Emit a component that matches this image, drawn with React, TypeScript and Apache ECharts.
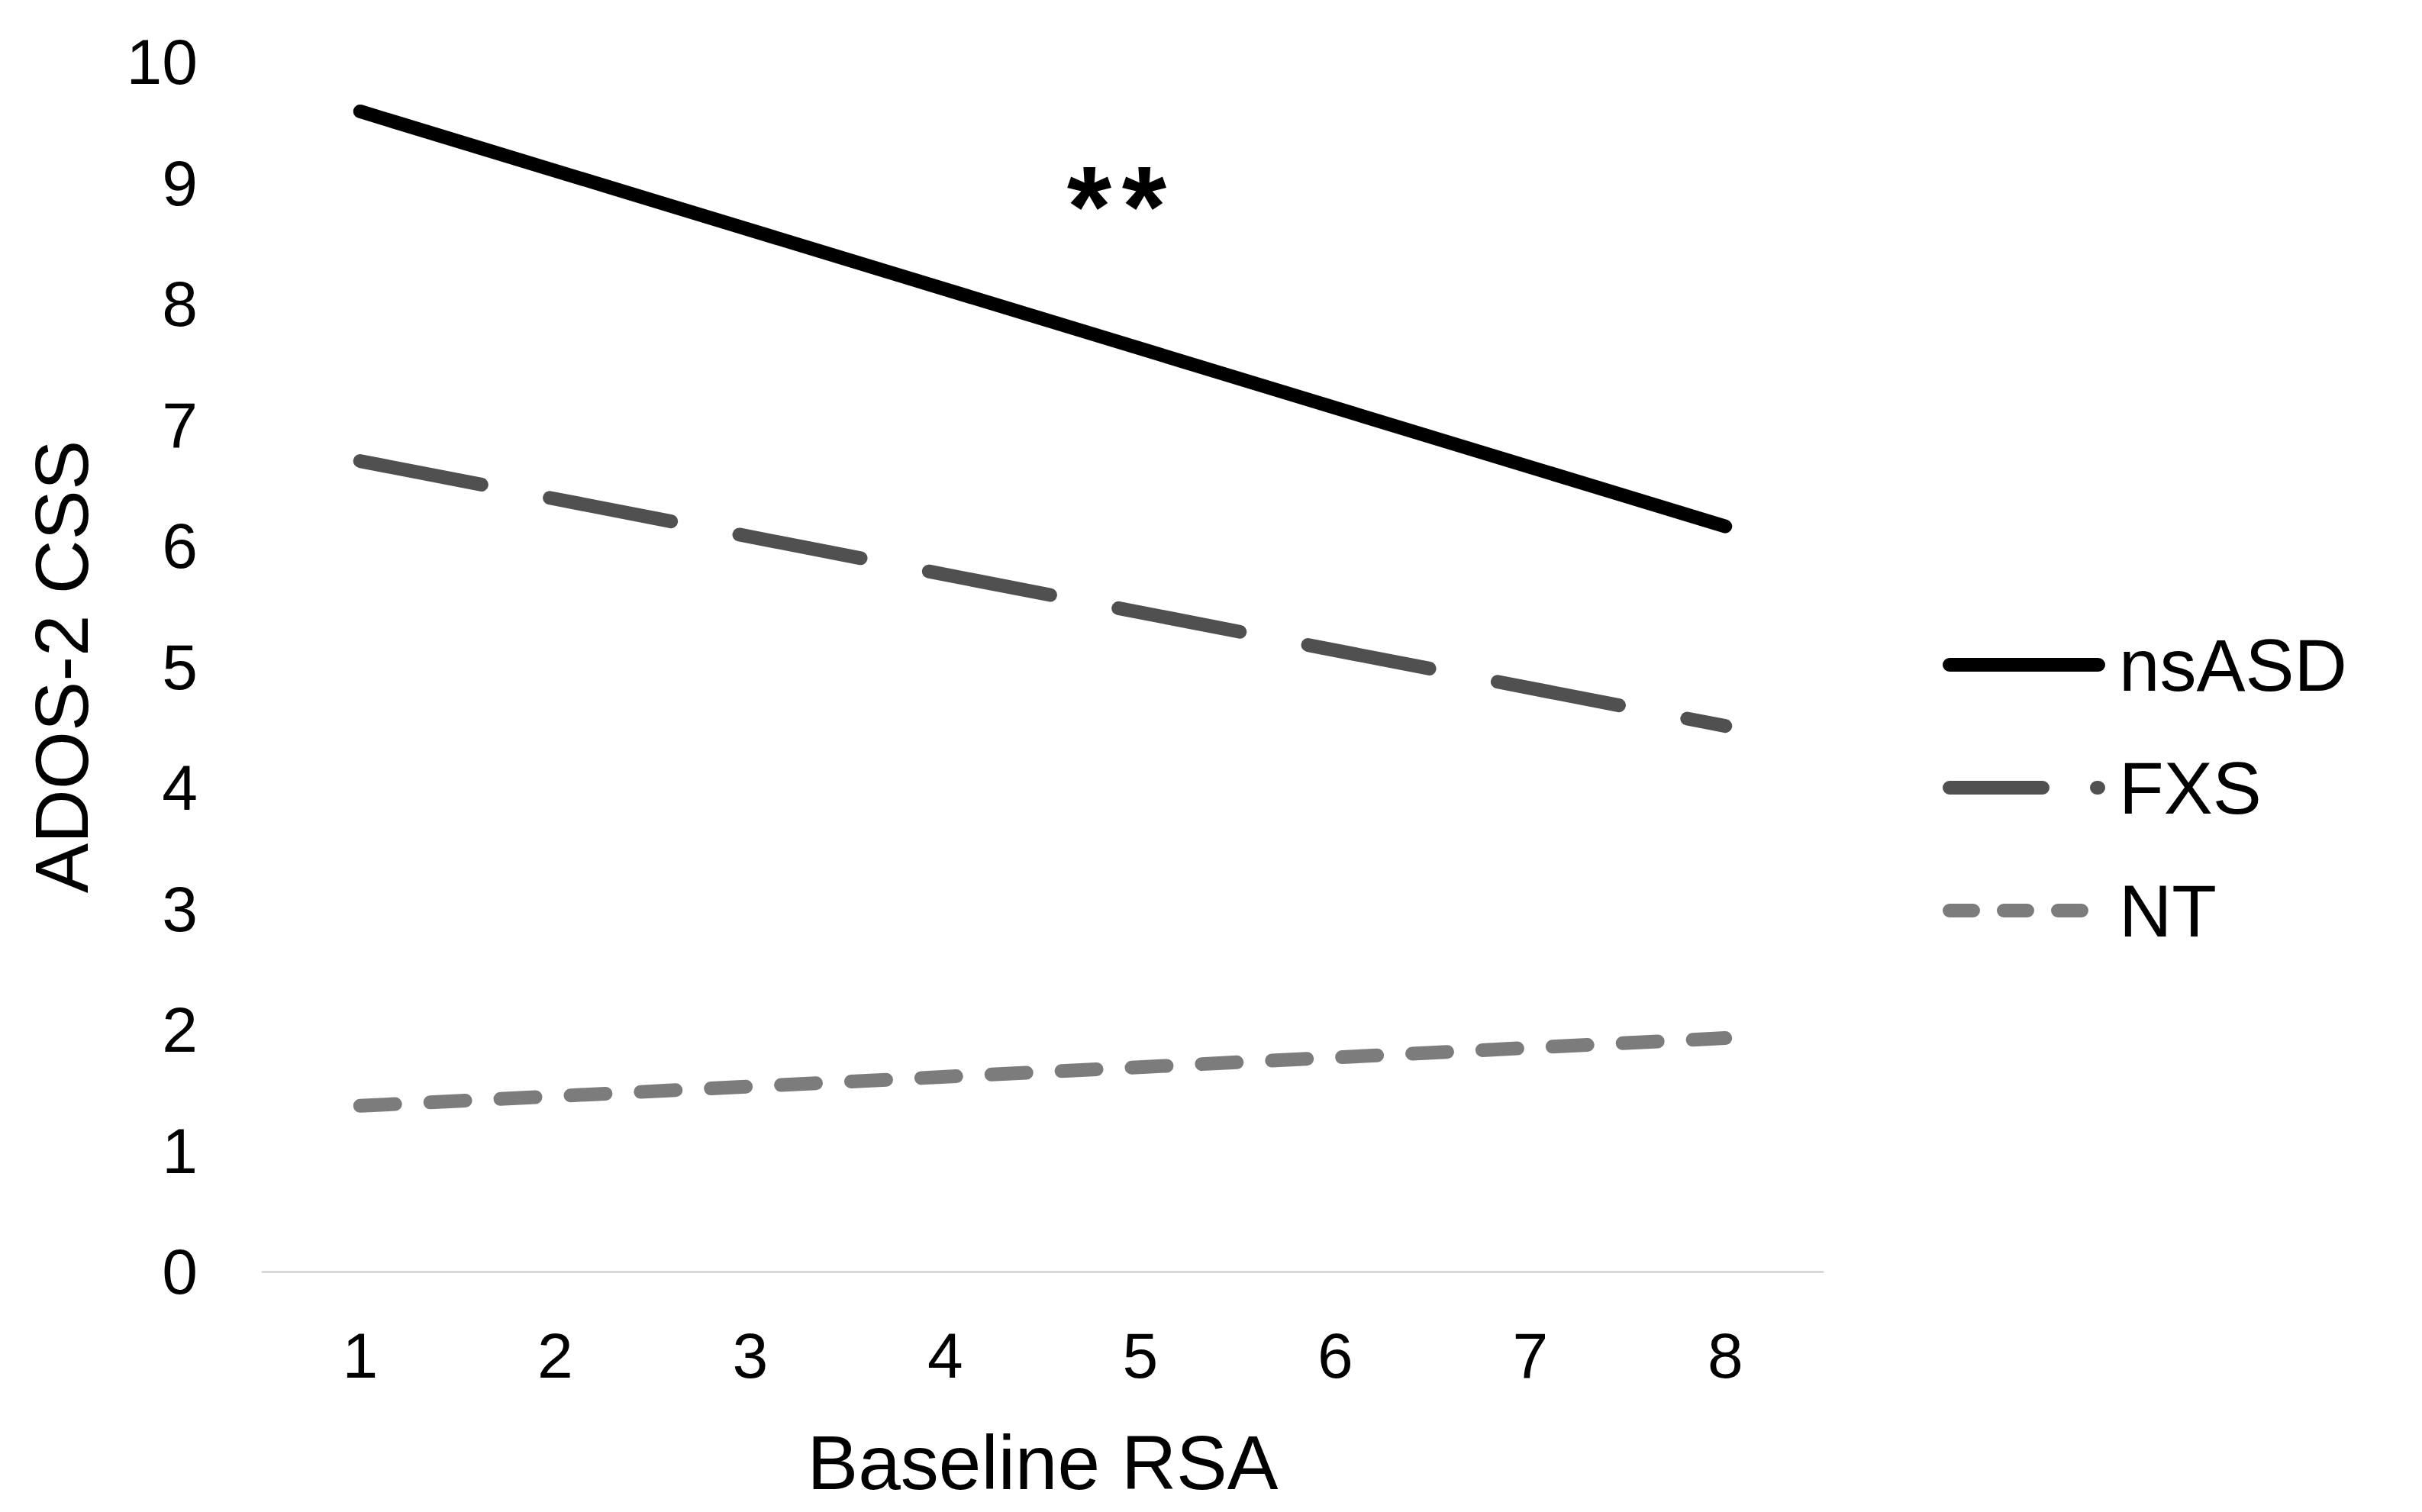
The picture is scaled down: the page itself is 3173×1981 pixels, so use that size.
import React, { useEffect, useRef } from "react";
import * as echarts from "echarts";

const categories = ["1", "2", "3", "4", "5", "6", "7", "8"];
const yTicks = { min: 0, max: 10, interval: 1 };
const nsASD: [string, number][] = [["1", 9.59], ["8", 6.16]];
const FXS: [string, number][] = [["1", 6.7], ["8", 4.51]];
const NT: [string, number][] = [["1", 1.37], ["8", 1.93]];
const xTitle = "Baseline RSA";
const yTitle = "ADOS-2 CSS";
const annotation = "**";

const FONT = "'Liberation Sans', Arial, sans-serif";
const W = 18;

export default function App() {
  const ref = useRef<HTMLDivElement>(null);
  useEffect(() => {
    if (!ref.current) return;
    const chart = echarts.init(ref.current, undefined, { renderer: "svg" });
    const series = [
      { name: "nsASD", data: nsASD, color: "#000000", dash: "solid" as any, legendDash: "solid" as any },
      { name: "FXS", data: FXS, color: "#505050", dash: [162, 91], legendDash: [122, 71] },
      { name: "NT", data: NT, color: "#7c7c7c", dash: [46, 46], legendDash: [31, 40] },
    ];
    const stars = annotation.split("");
    chart.setOption({
      animation: false,
      backgroundColor: "#ffffff",
      textStyle: { fontFamily: FONT },
      grid: { left: 344, right: 785, top: 81, bottom: 315, containLabel: false },
      xAxis: {
        type: "category",
        data: categories,
        boundaryGap: true,
        axisLine: { show: true, lineStyle: { color: "#d9d9d9", width: 3 } },
        axisTick: { show: false },
        axisLabel: { fontSize: 84, color: "#000", margin: 68, fontFamily: FONT },
        name: xTitle,
        nameLocation: "middle",
        nameGap: 200,
        nameTextStyle: { fontSize: 100, color: "#000", fontFamily: FONT },
        splitLine: { show: false },
      },
      yAxis: {
        type: "value",
        min: yTicks.min,
        max: yTicks.max,
        interval: yTicks.interval,
        axisLine: { show: false },
        axisTick: { show: false },
        splitLine: { show: false },
        axisLabel: { fontSize: 84, color: "#000", margin: 85, fontFamily: FONT },
        name: yTitle,
        nameLocation: "middle",
        nameGap: 214,
        nameTextStyle: { fontSize: 98, color: "#000", fontFamily: FONT },
      },
      legend: {
        show: true,
        orient: "vertical",
        left: 2540,
        top: 818,
        itemWidth: 195,
        itemHeight: 18,
        itemGap: 65,
        textStyle: { fontSize: 96, color: "#000", fontFamily: FONT, padding: [0, 0, 0, 22] },
        data: series.map((s) => ({
          name: s.name,
          itemStyle: { opacity: 0 },
          lineStyle: { width: W, type: s.legendDash, color: s.color, cap: "round" },
        })),
      },
      series: series.map((s) => ({
        name: s.name,
        type: "line",
        data: s.data,
        symbol: "none",
        showSymbol: false,
        color: s.color,
        lineStyle: { width: W, color: s.color, type: s.dash, cap: "round" },
      })),
      graphic: stars.map((ch, i) => ({
        type: "text",
        x: 1427 + i * 72,
        y: 271,
        style: {
          text: ch,
          fontSize: 150,
          fontWeight: "bold",
          fill: "#000",
          fontFamily: FONT,
          align: "center",
          verticalAlign: "middle",
        },
      })),
    });
    return () => chart.dispose();
  }, []);
  return (
    <div
      ref={ref}
      style={{ position: "fixed", left: 0, top: 0, width: 3173, height: 1981, background: "#fff" }}
    />
  );
}
